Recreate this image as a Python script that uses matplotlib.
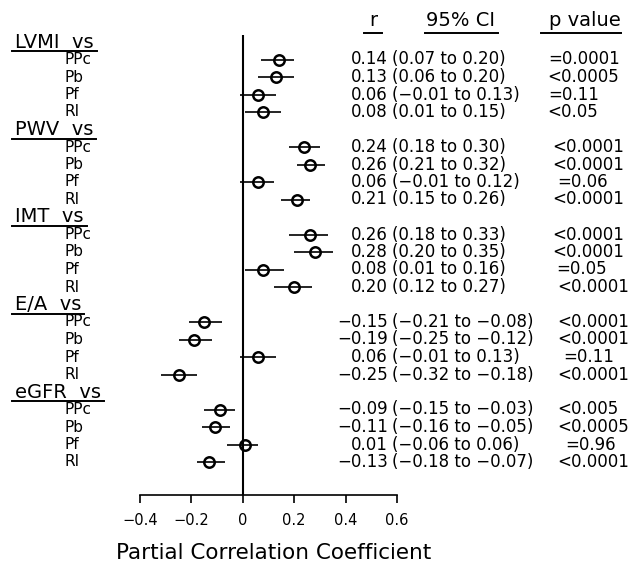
import matplotlib.pyplot as plt
from matplotlib.lines import Line2D
from matplotlib.transforms import blended_transform_factory

# partial correlations: each outcome against the four pressure indices
outcomes = ['LVMI', 'PWV', 'IMT', 'E/A', 'eGFR']
predictors = ['PPc', 'Pb', 'Pf', 'RI']

r_value = [0.14, 0.13, 0.06, 0.08,
           0.24, 0.26, 0.06, 0.21,
           0.26, 0.28, 0.08, 0.20,
           -0.15, -0.19, 0.06, -0.25,
           -0.09, -0.11, 0.01, -0.13]
ci_low = [0.07, 0.06, -0.01, 0.01,
          0.18, 0.21, -0.01, 0.15,
          0.18, 0.20, 0.01, 0.12,
          -0.21, -0.25, -0.01, -0.32,
          -0.15, -0.16, -0.06, -0.18]
ci_high = [0.20, 0.20, 0.13, 0.15,
           0.30, 0.32, 0.12, 0.26,
           0.33, 0.35, 0.16, 0.27,
           -0.08, -0.12, 0.13, -0.18,
           -0.03, -0.05, 0.06, -0.07]
p_text = ['=0.0001', '<0.0005', '=0.11', '<0.05',
          '<0.0001', '<0.0001', '=0.06', '<0.0001',
          '<0.0001', '<0.0001', '=0.05', '<0.0001',
          '<0.0001', '<0.0001', '=0.11', '<0.0001',
          '<0.005', '<0.0005', '=0.96', '<0.0001']
x_ticks = [-0.4, -0.2, 0, 0.2, 0.4, 0.6]
x_tick_labels = ['\u22120.4', '\u22120.2', '0', '0.2', '0.4', '0.6']

# layout in pixels (figure is 631 x 563)
W, H = 631, 563
p_x = [548, 547, 548, 547,
       552, 552, 557, 552,
       552, 552, 556, 557,
       557, 557, 563, 557,
       557, 557, 565, 557]


def num(v):
    return f'{v:.2f}'.replace('-', '\u2212')


def hline(fig, x0, x1, y, lw=1.4):
    fig.add_artist(Line2D([x0 / W, x1 / W], [1 - y / H, 1 - y / H],
                          transform=fig.transFigure, color='black', lw=lw))


fig = plt.figure(figsize=(W / 100, H / 100), dpi=100)
ax = fig.add_axes([140 / W, (H - 495) / H, 257 / W, 460 / H])

n_pred = len(predictors)
row_y = [5 * g + i + 1 for g in range(len(outcomes)) for i in range(n_pred)]

ax.hlines(row_y, ci_low, ci_high, color='black', lw=1.2)
ax.plot(r_value, row_y, 'o', ms=7.5, mfc='none', mec='black', mew=1.8)
ax.axvline(0, color='black', lw=1.5)

ax.set_xlim(-0.4, 0.6)
ax.set_ylim((495 - 42) / 17.5, -0.4)
ax.set_xticks(x_ticks)
ax.set_xticklabels(x_tick_labels)
ax.set_yticks([])
for s in ['top', 'right', 'left']:
    ax.spines[s].set_visible(False)
ax.spines['bottom'].set_linewidth(1.2)
ax.tick_params(axis='x', direction='out', length=6, width=1.2, labelsize=10.5, pad=7)

tr = blended_transform_factory(fig.transFigure, ax.transData)

heads = []
for g, name in enumerate(outcomes):
    heads.append((ax.text(15 / W, 5 * g, f'{name}  vs', transform=tr, fontsize=14,
                          ha='left', va='center'), 5 * g))
    for i, pred in enumerate(predictors):
        k = g * n_pred + i
        y = row_y[k]
        ax.text(65 / W, y, pred, transform=tr, fontsize=11, ha='left', va='center')
        ax.text(388 / W, y, num(r_value[k]), transform=tr, fontsize=12,
                ha='right', va='center')
        ax.text(392 / W, y, f'({num(ci_low[k])} to {num(ci_high[k])})', transform=tr,
                fontsize=12, ha='left', va='center')
        ax.text(p_x[k] / W, y, p_text[k], transform=tr, fontsize=12,
                ha='left', va='center')

col_r = fig.text(373 / W, 1 - 20 / H, 'r', fontsize=14, ha='center', va='center')
col_ci = fig.text(461 / W, 1 - 20 / H, '95% CI', fontsize=14, ha='center', va='center')
col_p = fig.text(549 / W, 1 - 20 / H, 'p value', fontsize=14, ha='left', va='center')

fig.text(274 / W, 1 - 553 / H, 'Partial Correlation Coefficient', fontsize=15.5,
         ha='center', va='center')

# underline the outcome names and the column headers
fig.canvas.draw()
for t, k in heads:
    bb = t.get_window_extent()
    y_pix = H - ax.transData.transform((0, k))[1] + 9
    hline(fig, 12, bb.x1 + 3, y_pix)

for t, (pl, pr) in zip([col_r, col_ci, col_p], [(5, 5), (2, 2), (8, 0)]):
    bb = t.get_window_extent()
    hline(fig, bb.x0 - pl, bb.x1 + pr, 33)

fig.savefig('out.png', dpi=100)
